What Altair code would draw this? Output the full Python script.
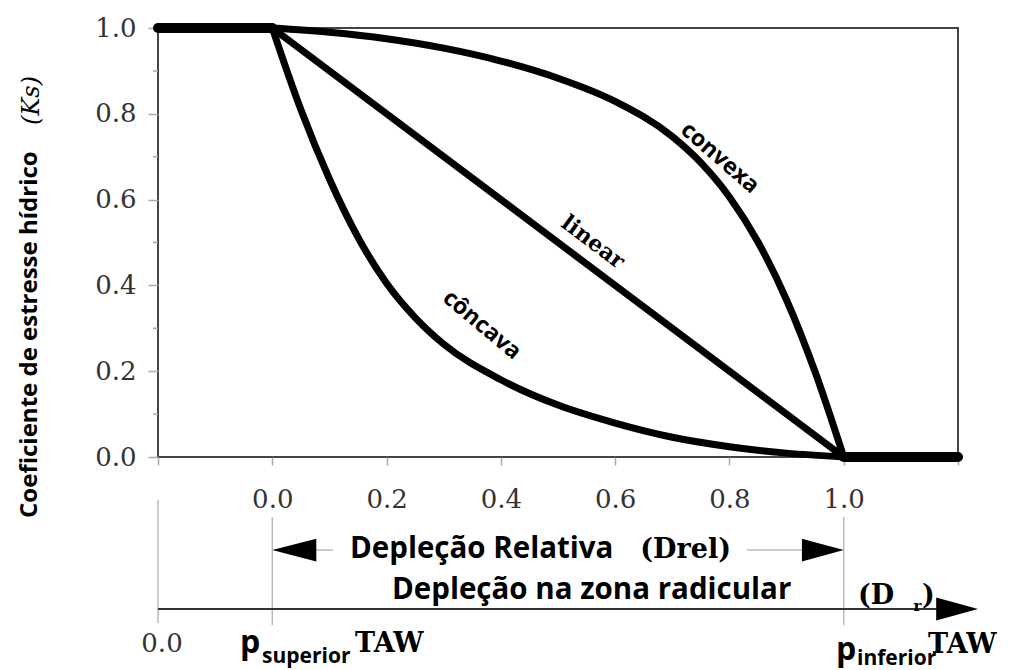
import altair as alt
import pandas as pd

# ---------------- values ----------------
convex_x = [0.0, 0.1, 0.2, 0.3, 0.4, 0.5, 0.6, 0.7, 0.75, 0.8, 0.85, 0.9, 0.95, 1.0]
convex_y = [1.0, 0.99, 0.975, 0.953, 0.923, 0.883, 0.829, 0.747, 0.686, 0.606, 0.501, 0.366, 0.198, 0.0]

linear_x = [0.0, 1.0]
linear_y = [1.0, 0.0]

concave_x = [0.0, 0.05, 0.1, 0.15, 0.2, 0.25, 0.3, 0.4, 0.5, 0.6, 0.7, 0.8, 0.9, 1.0]
concave_y = [1.0, 0.81, 0.648, 0.512, 0.405, 0.325, 0.263, 0.18, 0.121, 0.079, 0.046, 0.024, 0.009, 0.0]

plateau_x = [-0.2, 0.0]
plateau_y = [1.0, 1.0]
floor_x = [1.0, 1.2]
floor_y = [0.0, 0.0]

x_ticks = [-0.2, 0.0, 0.2, 0.4, 0.6, 0.8, 1.0, 1.2]
y_ticks = [0.0, 0.2, 0.4, 0.6, 0.8, 1.0]
y_minor = [0.1, 0.3, 0.5, 0.7, 0.9]

curve_names = ["convexa", "linear", "côncava"]
y_title = "Coeficiente de estresse hídrico"
y_title_sym = "(Ks)"
drel_label = "Depleção Relativa"
drel_sym = "(Drel)"
dr_label = "Depleção na zona radicular"
bottom_zero = "0.0"
p_sup = ["p", "superior", "TAW"]
p_inf = ["p", "inferior", "TAW"]

# ---------------- scales / axes ----------------
xs = alt.Scale(domain=[-0.2, 1.2], nice=False, zero=False)
ys = alt.Scale(domain=[0.0, 1.0], nice=False, zero=False)

x_axis = alt.Axis(
    values=x_ticks,
    labelExpr="(datum.value > -0.01 && datum.value < 1.01) ? format(datum.value, '.1f') : ''",
    domain=False, grid=False, ticks=True, tickSize=8, tickColor="#aaa", tickWidth=1.5,
    labelFont="DejaVu Serif", labelFontSize=26, labelColor="#333", labelPadding=21,
    labelFlush=False, labelOverlap=False, title="",
)
y_axis = alt.Axis(
    values=y_ticks, format=".1f",
    domain=False, grid=False, ticks=True, tickSize=10, tickColor="#aaa", tickWidth=1.5,
    labelFont="DejaVu Serif", labelFontSize=26, labelColor="#333", labelPadding=12,
    labelFlush=False, labelOverlap=False, title="",
)


def X(field="x"):
    return alt.X(f"{field}:Q", scale=xs, axis=x_axis)


def Y(field="y"):
    return alt.Y(f"{field}:Q", scale=ys, axis=y_axis)


# ---------------- curves ----------------
curves = pd.concat([
    pd.DataFrame({"x": convex_x, "y": convex_y, "s": curve_names[0]}),
    pd.DataFrame({"x": linear_x, "y": linear_y, "s": curve_names[1]}),
    pd.DataFrame({"x": concave_x, "y": concave_y, "s": curve_names[2]}),
])
flats = pd.concat([
    pd.DataFrame({"x": plateau_x, "y": plateau_y, "s": "a"}),
    pd.DataFrame({"x": floor_x, "y": floor_y, "s": "b"}),
])

curve_layer = alt.Chart(curves).mark_line(
    color="black", strokeWidth=7, interpolate="monotone", strokeCap="round", strokeJoin="round"
).encode(x=X(), y=Y(), detail="s:N", order="x:Q")

flat_layer = alt.Chart(flats).mark_line(
    color="black", strokeWidth=10, strokeCap="round"
).encode(x=X(), y=Y(), detail="s:N")

minor_layer = alt.Chart(pd.DataFrame({"y": y_minor})).mark_rule(
    color="#aaa", strokeWidth=1.5
).encode(y=Y(), x=alt.value(-5), x2=alt.value(0))

# ---------------- annotations below the plot ----------------
gray_seg = pd.DataFrame({
    "x": [-0.2, 0.0, 1.0, 0.07, 0.8308],
    "y": [-0.100, -0.140, -0.140, -0.217, -0.217],
    "x2": [-0.2, 0.0, 1.0, 0.1063, 0.93],
    "y2": [-0.387, -0.392, -0.392, -0.217, -0.217],
})
gray_layer = alt.Chart(gray_seg).mark_rule(color="#bbb", strokeWidth=1.5).encode(
    x=X(), y=Y(), x2="x2:Q", y2="y2:Q"
)

dr_line = pd.DataFrame({"x": [-0.2], "x2": [1.21], "y": [-0.3543]})
dr_layer = alt.Chart(dr_line).mark_rule(color="#333", strokeWidth=2).encode(
    x=X(), x2="x2:Q", y=Y()
)

arrow_left = alt.Chart(pd.DataFrame({"x": [0.0], "y": [-0.217]})).mark_point(
    shape="M0,0L2,-0.52L2,0.52Z", filled=True, size=1936, color="black", opacity=1
).encode(x=X(), y=Y())
arrow_right = alt.Chart(pd.DataFrame({"x": [1.0, 1.235], "y": [-0.217, -0.3543]})).mark_point(
    shape="M0,0L-1.9,-0.52L-1.9,0.52Z", filled=True, size=1936, color="black", opacity=1
).encode(x=X(), y=Y())


def text_layer(rows, **kw):
    df = pd.DataFrame(rows, columns=["x", "y", "t"])
    kw.setdefault("color", "black")
    return alt.Chart(df).mark_text(**kw).encode(x=X(), y=Y(), text="t:N")


sans_bold_mid = text_layer(
    [(0.136, -0.2354, drel_label), (0.2095, -0.331, dr_label)],
    font="Open Sans", fontWeight="bold", fontSize=29.5, align="left", baseline="alphabetic",
)
serif_bold = text_layer(
    [(0.644, -0.2354, drel_sym), (1.025, -0.3427, "(D"), (1.137, -0.3427, ")"),
     (0.1448, -0.4545, p_sup[2]), (1.1476, -0.4569, p_inf[2])],
    font="DejaVu Serif", fontWeight="bold", fontSize=27, align="left", baseline="alphabetic",
)
serif_sub = text_layer(
    [(1.122, -0.359, "r")],
    font="DejaVu Serif", fontWeight="bold", fontSize=15, align="left", baseline="alphabetic",
)
zero_label = text_layer(
    [(-0.193, -0.4545, bottom_zero)],
    font="DejaVu Serif", fontSize=26, align="center", baseline="alphabetic", color="#333",
)
p_big = text_layer(
    [(-0.0565, -0.4569, p_sup[0]), (0.9866, -0.4732, p_inf[0])],
    font="Open Sans", fontWeight="bold", fontSize=32, align="left", baseline="alphabetic",
)
p_small = text_layer(
    [(-0.018, -0.480, p_sup[1]), (1.0233, -0.4848, p_inf[1])],
    font="Open Sans", fontWeight="bold", fontSize=21, align="left", baseline="alphabetic",
)

# ---------------- y title (rotated) ----------------
ytitle_sans = text_layer(
    [(-0.4118, -0.142, y_title)],
    font="Open Sans", fontWeight="bold", fontSize=24, align="left", baseline="alphabetic", angle=270,
)
ytitle_serif = text_layer(
    [(-0.4083, 0.774, y_title_sym)],
    font="DejaVu Serif", fontStyle="italic", fontSize=24, align="left", baseline="alphabetic", angle=270,
)

# ---------------- curve labels ----------------
lab_convex = text_layer([(0.7836, 0.697, curve_names[0])], font="Open Sans", fontWeight="bold",
                        fontSize=23, align="center", baseline="middle", angle=41)
lab_linear = text_layer([(0.5613, 0.501, curve_names[1])], font="DejaVu Serif", fontWeight="bold",
                        fontSize=22, align="center", baseline="middle", angle=37)
lab_concave = text_layer([(0.367, 0.3077, curve_names[2])], font="Open Sans", fontWeight="bold",
                         fontSize=23, align="center", baseline="middle", angle=40)

chart = alt.layer(
    gray_layer, dr_layer, arrow_left, arrow_right, minor_layer,
    curve_layer, flat_layer,
    sans_bold_mid, serif_bold, serif_sub, zero_label, p_big, p_small,
    ytitle_sans, ytitle_serif, lab_convex, lab_linear, lab_concave,
).properties(
    width=800, height=429,
    autosize=alt.AutoSizeParams(type="none"),
    padding={"left": 150, "top": 20, "right": 48, "bottom": 213},
    background="white",
).configure_view(
    stroke="#444", strokeWidth=2
)

chart.save("out.html", embed_options={"renderer": "svg", "actions": False})
